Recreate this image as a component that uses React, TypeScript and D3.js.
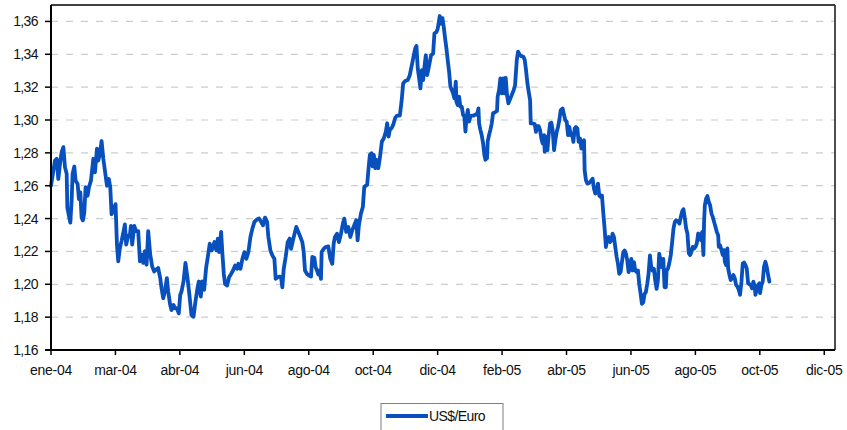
import React from "react";
import * as d3 from "d3";

// Daily US$ per euro, Jan 2004 – Oct 2005.
// Dates are given as days elapsed since 1 January 2004.
const SERIES_NAME = "US$/Euro";
const SERIES_START = new Date(2004, 0, 1);
const AXIS_END = new Date(2005, 11, 31);

const dayOffsets: number[] = [
  0, 3.7, 5.3, 6.8, 8.4, 9.9, 11.5, 13, 14.6, 15.2,
  16.7, 18, 19.2, 20.1, 21.7, 22.9, 24.8, 26, 27.3, 28.5,
  29.7, 31, 32.2, 34.1, 35.3, 37.2, 39.4, 40.9, 42.8, 44,
  45.6, 47.1, 48.7, 50.2, 52.1, 53.9, 55.2, 56.4, 58.3, 60.1,
  61.4, 62.6, 64.2, 65.7, 67.6, 68.8, 70, 71.9, 73.5, 74.4,
  75.6, 77.5, 79.3, 81.2, 82.8, 84.3, 85.9, 87.4, 89, 90.5,
  92.4, 94.2, 96.1, 97.9, 99.8, 101.7, 102.9, 104.5, 106, 107.9,
  109.1, 111, 112.2, 114.1, 115.3, 117.2, 119, 120.3, 121.5, 123.4,
  125.2, 127.1, 128.9, 130.8, 132.7, 134.5, 136.4, 137.6, 139.5, 140.7,
  142.6, 144.4,
  146, 147.8, 149.7, 152.2, 154, 155.3, 156.5, 158.4, 159.6, 160.9,
  162.1, 164, 165.8, 167.7, 169.5, 171.4, 173.3, 174.5, 176.4, 178.2,
  180.1, 181.9, 183.8, 185.7, 187.5, 189.4, 191.6, 193.7, 195.6, 197.4,
  199.3, 201.2, 202.4, 204.3, 206.1, 208, 209.2, 211.1, 212.9, 214.2,
  215.4, 216.7, 218.5, 220.4, 222.2, 223.5, 225.3, 227.2, 228.4, 230.3,
  232.2, 234, 235.3, 236.5, 238.4, 240.2, 242.1, 243.3, 245.2, 246.4,
  247.7, 248.9, 250.1, 251.4, 252, 253.9, 255.7, 258.2, 260.1, 261.9,
  263.2, 264.4, 266.3, 268.1, 270, 271.8, 273.1, 274.9, 276.8, 278.7,
  280.5, 282.4, 284.2, 285.5, 286.7, 288.6, 290.4, 291.7,
  292.3, 294.4, 295.7, 296.9, 298.5, 299.4, 300.6, 301.9, 303.1, 304.7,
  306.2, 308.1, 309.9, 311.8, 313, 314.3, 315.5, 317.1, 318.6, 320.5,
  322.3, 324.8, 326, 326.7, 327.9, 329.8, 332.2, 334.1, 335, 336.6,
  337.8, 339.1, 340.3, 341.5, 342.8, 344, 345.3, 346.5, 347.7, 349,
  350.2, 351.5, 352.7, 353.9, 355.8, 357, 358.9, 360.1, 362, 363.2,
  364.5, 365.7, 367, 368.2, 369.4, 370.7, 371.9, 373.2, 374.4, 375.6,
  376.9, 377.5, 378.7, 380, 381.2, 382.5, 383.7, 384.9, 385.9, 386.8,
  388.1, 389.3, 390.5, 391.8, 393.6, 395.5, 396.7, 398, 398.6, 399.8,
  401, 402.3, 403.5, 404.5, 406, 406.6, 407.9, 409.1, 410.4, 411.6,
  413.5, 415.3, 415.9, 417.2, 418.4, 419.7, 420.9, 422.1, 423.4, 424.6,
  425.9, 427.1, 429, 430.8, 432.1,
  433.7, 434.9, 436.5, 438, 439.9, 441.1, 442.3, 443.6, 444.8, 446.1,
  446.7, 448.5, 450.4, 451.6, 452.9, 454.1, 455.4, 456.6, 457.8, 459.1,
  459.7, 461.3, 462.2, 463.4, 464.7, 465.9, 467.1, 468.4, 469.6, 470.9,
  472.1, 473.3, 474.6, 476.4, 477.7, 478.9, 480.2, 481.4, 482.6, 483.9,
  485.1, 486.4, 487.6, 488.8, 490.1, 491.3, 492.6, 493.8, 495, 496.3,
  496.9, 498.1, 499.4, 501.2, 503.1, 504.3, 505.6, 506.8, 508.1, 509.3,
  510.5, 511.8, 513, 514.3, 515.5, 516.7, 518, 519.2, 520.5, 521.7,
  522.9, 524.2, 525.4, 526.7, 527.9, 529.1, 530.4, 531.6, 532.9, 534.1,
  535.3, 536.6, 537.8, 539.1, 540.3, 541.5, 542.8, 544, 545.3, 546.5,
  547.7, 549, 550.2, 551.5, 552.7, 553.9, 555.2, 556.4, 557.7, 558.9,
  560.1, 561.4, 562.6, 563.9, 565.1, 566.3, 567.6, 568.8, 570.1, 571.3,
  572.5, 573.2, 574.4, 575.6,
  577.1, 578.4, 579.6, 580.9, 582.1, 584, 585.2, 586.4, 587.7, 588.9,
  590.2, 591.4, 592.6, 593.9, 595.1, 596.4, 597.6, 598.8, 600.1, 601.3,
  602.6, 603.8, 605, 606.3, 607.5, 608.1, 608.8, 610, 611.2, 612.5,
  613.7, 615, 616.2, 617.4, 618.7, 619.9, 621.2, 621.8, 623, 624.3,
  625.5, 626.7, 627.4, 628.6, 629.8, 630.5, 631.7, 632.9, 634.2, 635.4,
  636.7, 637.9, 639.1, 640.4, 641.6, 642.9, 644.1, 645.3, 646.6, 647.8,
  649.1, 650.3, 651.5, 652.8, 654, 655.3, 655.9, 657.1, 658.4, 659.6,
  660.2, 661.5, 662.7, 663.9, 665.2, 666.4, 667.7, 668.9,
];

const usdPerEuro: number[] = [
  1.26, 1.2753, 1.2764, 1.2641, 1.2733, 1.2805, 1.2835, 1.2713, 1.2672, 1.2467,
  1.2416, 1.2375, 1.2508, 1.2672, 1.2717, 1.2631, 1.261, 1.2518, 1.2559, 1.2406,
  1.2389, 1.2436, 1.259, 1.2539, 1.259, 1.2631, 1.2764, 1.2682, 1.2825, 1.2753,
  1.2794, 1.2872, 1.2764, 1.2692, 1.26, 1.2641, 1.259, 1.2426, 1.2457, 1.2488,
  1.2242, 1.214, 1.2222, 1.2263, 1.2324, 1.2365, 1.2242, 1.2293, 1.2304, 1.2355,
  1.2242, 1.2355, 1.2324, 1.2324, 1.214, 1.2181, 1.213, 1.2201, 1.2119, 1.2324,
  1.2181, 1.2109, 1.2078, 1.2089, 1.2099, 1.2038, 1.1976, 1.1915, 1.1956, 1.2038,
  1.1956, 1.1874, 1.1843, 1.1874, 1.1854, 1.1854, 1.1823, 1.1935, 1.1956, 1.2017,
  1.213, 1.2038, 1.1935, 1.1813, 1.1802, 1.1895, 1.1976, 1.2017, 1.1925, 1.2017,
  1.1966, 1.2099,
  1.2166, 1.2247, 1.2206, 1.2257, 1.2206, 1.2278, 1.2196, 1.2319, 1.2186, 1.2063,
  1.2002, 1.1992, 1.2043, 1.2063, 1.2084, 1.2115, 1.2094, 1.2125, 1.2094, 1.2155,
  1.2196, 1.2155, 1.2196, 1.2288, 1.2339, 1.238, 1.2394, 1.24, 1.238, 1.2359,
  1.2406, 1.238, 1.2288, 1.2206, 1.2176, 1.2155, 1.2033, 1.2043, 1.2047, 1.2043,
  1.1982, 1.2094, 1.2166, 1.2257, 1.2278, 1.2216, 1.2268, 1.2319, 1.2349, 1.2319,
  1.2288, 1.2257, 1.2196, 1.2084, 1.2063, 1.2053, 1.2047, 1.2166, 1.2161, 1.2104,
  1.2084, 1.206, 1.2084, 1.2033, 1.2196, 1.2216, 1.2227, 1.2231, 1.2155, 1.2125,
  1.2247, 1.2288, 1.2308, 1.2257, 1.2308, 1.237, 1.24, 1.2319, 1.2349, 1.2288,
  1.2329, 1.236, 1.239, 1.2268, 1.236, 1.2431, 1.2472, 1.2594,
  1.2596, 1.2606, 1.2707, 1.2788, 1.2798, 1.2718, 1.2788, 1.2707, 1.2758, 1.2707,
  1.2768, 1.2869, 1.2889, 1.293, 1.298, 1.2899, 1.294, 1.295, 1.297, 1.3014,
  1.3027, 1.3027, 1.3091, 1.3132, 1.3222, 1.3237, 1.3243, 1.3273, 1.3303, 1.3354,
  1.3394, 1.3435, 1.3451, 1.3313, 1.3253, 1.3192, 1.3303, 1.3243, 1.3323, 1.3394,
  1.3273, 1.3313, 1.3354, 1.3394, 1.3404, 1.3526, 1.3536, 1.3556, 1.3633, 1.3586,
  1.362, 1.3566, 1.3495, 1.3435, 1.3364, 1.3293, 1.3202, 1.3182, 1.3162, 1.3132,
  1.3233, 1.3111, 1.3091, 1.3142, 1.3081, 1.3081, 1.3031, 1.302, 1.293, 1.301,
  1.3061, 1.299, 1.302, 1.3027, 1.3027, 1.3035, 1.3031, 1.3071, 1.298, 1.294,
  1.2909, 1.2859, 1.2788, 1.2758, 1.2768, 1.2869, 1.2909, 1.294, 1.298, 1.3041,
  1.3047, 1.3055, 1.3142, 1.3182, 1.3253, 1.3162, 1.3253, 1.3162, 1.3257, 1.3152,
  1.3101, 1.3121, 1.3152, 1.3182, 1.3212,
  1.3365, 1.3416, 1.3396, 1.3389, 1.3385, 1.3365, 1.3304, 1.3223, 1.3172, 1.3121,
  1.2979, 1.2979, 1.2975, 1.2928, 1.2962, 1.2962, 1.2938, 1.2887, 1.2857, 1.2908,
  1.2806, 1.2897, 1.2816, 1.2908, 1.2979, 1.2983, 1.2938, 1.2816, 1.2877, 1.2928,
  1.2958, 1.2999, 1.306, 1.307, 1.303, 1.2999, 1.2989, 1.2908, 1.2958, 1.2908,
  1.2918, 1.2867, 1.2948, 1.2958, 1.2948, 1.2867, 1.2887, 1.2826, 1.2857, 1.2877,
  1.2694, 1.2633, 1.2613, 1.2617, 1.2633, 1.2643, 1.2582, 1.2552, 1.2562, 1.2613,
  1.2541, 1.2531, 1.2541, 1.243, 1.2338, 1.2227, 1.2277, 1.2288, 1.2257, 1.2267,
  1.2308, 1.2288, 1.2227, 1.2166, 1.2125, 1.2064, 1.2074, 1.2135, 1.2196, 1.2206,
  1.2186, 1.2145, 1.2074, 1.2105, 1.2155, 1.2084, 1.2135, 1.2084, 1.2074, 1.2084,
  1.2003, 1.1942, 1.1881, 1.1891, 1.1942, 1.1952, 1.2003, 1.2064, 1.2176, 1.2105,
  1.2084, 1.2094, 1.2023, 1.1972, 1.2023, 1.2186, 1.2145, 1.2105, 1.2155, 1.1982,
  1.1982, 1.2084, 1.2094, 1.2125,
  1.2178, 1.2259, 1.2339, 1.238, 1.239, 1.238, 1.237, 1.241, 1.2444, 1.2457,
  1.24, 1.2339, 1.2309, 1.2188, 1.2178, 1.2198, 1.2228, 1.2218, 1.2228, 1.2248,
  1.2309, 1.2299, 1.2269, 1.2319, 1.2178, 1.238, 1.2481, 1.2521, 1.2537, 1.2501,
  1.2481, 1.243, 1.241, 1.238, 1.235, 1.2319, 1.2299, 1.2228, 1.2238, 1.2208,
  1.2178, 1.2208, 1.2137, 1.2117, 1.2218, 1.2097, 1.2057, 1.2026, 1.2036, 1.2057,
  1.2036, 1.1996, 1.1986, 1.1966, 1.1936, 1.2016, 1.2127, 1.2133, 1.2117, 1.2097,
  1.2006, 1.2, 1.1996, 1.1976, 1.2016, 1.1986, 1.1936, 1.1966, 1.1996, 1.2006,
  1.1946, 1.1996, 1.2016, 1.2107, 1.2137, 1.2107, 1.2057, 1.2016,
];

// Axis: 1.16 – 1.37 with labelled steps of 0.02; date ticks every 60 days.
const yTickValues: number[] = [1.16, 1.18, 1.2, 1.22, 1.24, 1.26, 1.28, 1.3, 1.32, 1.34, 1.36];
const Y_MIN = 1.16;
const Y_MAX = 1.37;
const TICK_STEP_DAYS = 60;
const TICK_COUNT = 13;
const shortMonthsEs = ["ene", "feb", "mar", "abr", "may", "jun", "jul", "ago", "sep", "oct", "nov", "dic"];

const W = 847;
const H = 430;
const plot = { left: 51, right: 835, top: 5, bottom: 350 };
const LINE_COLOR = "#0750bd";
const FONT = "'Liberation Sans', Arial, Helvetica, sans-serif";

const esTime = d3.timeFormatLocale({
  dateTime: "%A, %e de %B de %Y, %X",
  date: "%d/%m/%Y",
  time: "%H:%M:%S",
  periods: ["AM", "PM"],
  days: ["domingo", "lunes", "martes", "miércoles", "jueves", "viernes", "sábado"],
  shortDays: ["dom", "lun", "mar", "mié", "jue", "vie", "sáb"],
  months: ["enero", "febrero", "marzo", "abril", "mayo", "junio", "julio", "agosto", "septiembre", "octubre", "noviembre", "diciembre"],
  shortMonths: shortMonthsEs,
});
const esNumber = d3.formatLocale({ decimal: ",", thousands: ".", grouping: [3], currency: ["", " €"] });
const fmtDate = esTime.format("%b-%y");
const fmtRate = esNumber.format(".2f");

const dayToDate = (d: number) => new Date(SERIES_START.getTime() + d * 86400000);

export default function App() {
  const x = d3.scaleTime().domain([SERIES_START, AXIS_END]).range([plot.left, plot.right]);
  const y = d3.scaleLinear().domain([Y_MIN, Y_MAX]).range([plot.bottom, plot.top]);

  const points = d3.zip(dayOffsets, usdPerEuro) as [number, number][];
  const line = d3
    .line<[number, number]>()
    .x((p) => x(dayToDate(p[0])))
    .y((p) => y(p[1]));

  const xTicks = d3.range(TICK_COUNT).map((i) => d3.timeDay.offset(SERIES_START, i * TICK_STEP_DAYS));

  return (
    <svg
      width={W}
      height={H}
      viewBox={`0 0 ${W} ${H}`}
      style={{ position: "absolute", left: 0, top: 0, display: "block", background: "#fff" }}
      fontFamily={FONT}
    >
      <rect x={0} y={0} width={W} height={H} fill="#fff" />

      {/* horizontal gridlines */}
      {yTickValues
        .filter((v) => v > Y_MIN)
        .map((v) => (
          <line
            key={`g${v}`}
            x1={plot.left}
            x2={plot.right}
            y1={y(v)}
            y2={y(v)}
            stroke="#c9cfcf"
            strokeWidth={1.2}
            strokeDasharray="7 8"
          />
        ))}

      {/* series */}
      <path
        d={line(points) ?? ""}
        fill="none"
        stroke={LINE_COLOR}
        strokeWidth={3.8}
        strokeLinejoin="round"
        strokeLinecap="round"
      />

      {/* frame: top and right edges */}
      <line x1={plot.left} x2={plot.right} y1={plot.top} y2={plot.top} stroke="#000" strokeWidth={1.6} />
      <line x1={plot.right} x2={plot.right} y1={plot.top} y2={plot.bottom} stroke="#222" strokeWidth={1.6} />

      {/* y axis */}
      <line x1={plot.left} x2={plot.left} y1={plot.top} y2={plot.bottom + 1} stroke="#000" strokeWidth={2} />
      {yTickValues.map((v) => (
        <g key={`y${v}`}>
          <line x1={plot.left - 6} x2={plot.left} y1={y(v)} y2={y(v)} stroke="#000" strokeWidth={1.5} />
          <text
            x={38}
            y={y(v) + 5}
            textAnchor="end"
            fontSize={14}
            letterSpacing={-0.6}
            fill="#111"
          >
            {fmtRate(v)}
          </text>
        </g>
      ))}

      {/* x axis */}
      <line x1={plot.left - 6} x2={plot.right} y1={plot.bottom} y2={plot.bottom} stroke="#000" strokeWidth={2} />
      {xTicks.map((t) => (
        <g key={`x${t.getTime()}`}>
          <line x1={x(t)} x2={x(t)} y1={plot.bottom} y2={plot.bottom + 5} stroke="#000" strokeWidth={1.5} />
          <text x={x(t)} y={375} textAnchor="middle" fontSize={14} letterSpacing={-0.3} fill="#111">
            {fmtDate(t)}
          </text>
        </g>
      ))}

      {/* legend */}
      <g>
        <rect x={381} y={403.5} width={122} height={30} fill="#fff" stroke="#7f7f7f" strokeWidth={1} />
        <line x1={386} x2={428} y1={416} y2={416} stroke={LINE_COLOR} strokeWidth={3.8} />
        <text x={429} y={421} fontSize={14} letterSpacing={-0.6} fill="#111">
          {SERIES_NAME}
        </text>
      </g>
    </svg>
  );
}
